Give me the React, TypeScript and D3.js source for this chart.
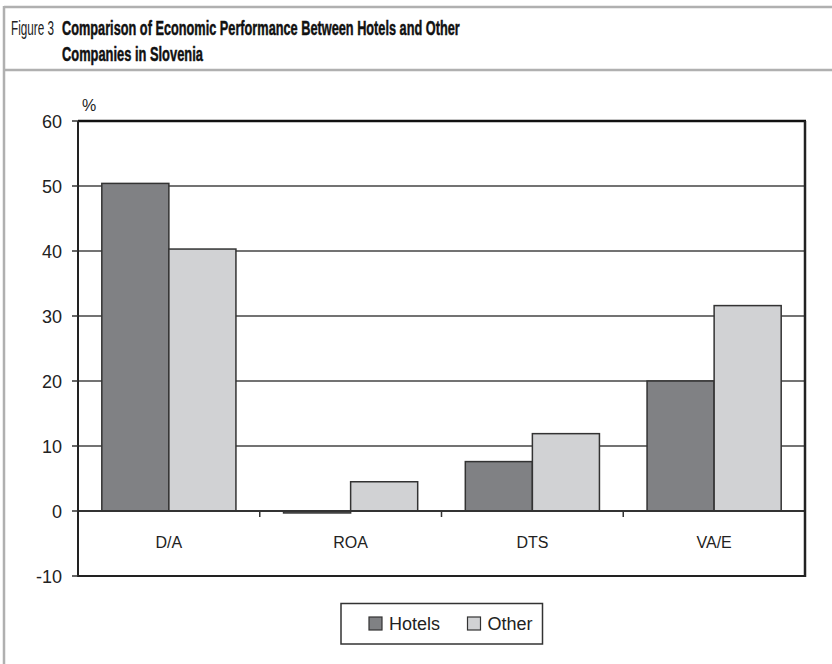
import React, { useLayoutEffect, useRef, useState } from "react";
import * as d3 from "d3";

// Economic indicators (%) for Slovenian hotels vs. other companies
const categories = ["D/A", "ROA", "DTS", "VA/E"];
const seriesNames = ["Hotels", "Other"];
const hotelsValues = [50.4, -0.3, 7.6, 20.0];
const otherValues = [40.3, 4.5, 11.9, 31.6];
const yTicks = [-10, 0, 10, 20, 30, 40, 50, 60];

const seriesColors: Record<string, string> = { Hotels: "#808184", Other: "#d1d2d4" };

const W = 832;
const H = 664;
const plot = { left: 78, right: 805, top: 121, bottom: 576 };
const labelFont = "'Liberation Sans', Arial, sans-serif";
const titleFont = "'Liberation Sans Narrow', 'Liberation Sans', Arial, sans-serif";

// Text condensed horizontally to a fixed width (the title face is a condensed gothic)
function FitText(props: {
  x: number;
  y: number;
  width: number;
  children: string;
  [k: string]: any;
}) {
  const { x, y, width, children, ...rest } = props;
  const ref = useRef<SVGTextElement>(null);
  const [sx, setSx] = useState(1);
  useLayoutEffect(() => {
    if (ref.current) {
      const len = ref.current.getComputedTextLength();
      if (len > 0) setSx(width / len);
    }
  }, [width, children]);
  return (
    <g transform={`translate(${x},${y}) scale(${sx},1)`}>
      <text ref={ref} x={0} y={0} {...rest}>
        {children}
      </text>
    </g>
  );
}

export default function App() {
  const y = d3.scaleLinear().domain([-10, 60]).range([plot.bottom, plot.top]);
  const x = d3.scaleBand<string>().domain(categories).range([plot.left, plot.right]);
  const groupWidth = x.bandwidth() * 0.738;
  const x1 = d3.scaleBand<string>().domain(seriesNames).range([0, groupWidth]);
  const offset = (x.bandwidth() - groupWidth) / 2;

  const rows = categories.map((c, i) => ({ c, Hotels: hotelsValues[i], Other: otherValues[i] }));

  return (
    <svg
      width={W}
      height={H}
      style={{ position: "absolute", left: 0, top: 0, background: "#fff" }}
    >
      {/* outer frame */}
      <line x1={4} x2={4} y1={6} y2={H} stroke="#b0b0b0" strokeWidth={2.5} />
      <line x1={4} x2={W} y1={7} y2={7} stroke="#b0b0b0" strokeWidth={2.5} />
      <line x1={4} x2={W} y1={70} y2={70} stroke="#b0b0b0" strokeWidth={2.5} />

      {/* title */}
      <FitText x={11} y={35} width={43} fontFamily={titleFont} fontSize={21} fill="#222">
        Figure 3
      </FitText>
      <FitText
        x={62}
        y={35}
        width={398}
        fontFamily={titleFont}
        fontSize={21}
        fontWeight="bold"
        fill="#111"
        stroke="#111"
        strokeWidth={0.5}
      >
        Comparison of Economic Performance Between Hotels and Other
      </FitText>
      <FitText
        x={62}
        y={61}
        width={141}
        fontFamily={titleFont}
        fontSize={21}
        fontWeight="bold"
        fill="#111"
        stroke="#111"
        strokeWidth={0.5}
      >
        Companies in Slovenia
      </FitText>

      {/* gridlines */}
      {yTicks
        .filter((t) => t > 0 && t < 60)
        .map((t) => (
          <line key={t} x1={plot.left} x2={plot.right} y1={y(t)} y2={y(t)} stroke="#444" strokeWidth={1.5} />
        ))}

      {/* bars */}
      {rows.map((r) =>
        seriesNames.map((s) => {
          const v = (r as any)[s] as number;
          const x0 = (x(r.c) as number) + offset + (x1(s) as number);
          const top = Math.min(y(v), y(0));
          const h = Math.max(Math.abs(y(v) - y(0)), 1.5);
          return (
            <rect
              key={r.c + s}
              x={x0}
              y={top}
              width={x1.bandwidth()}
              height={h}
              fill={seriesColors[s]}
              stroke="#333"
              strokeWidth={1.5}
            />
          );
        })
      )}

      {/* zero axis line with category ticks */}
      <line x1={plot.left} x2={plot.right} y1={y(0)} y2={y(0)} stroke="#333" strokeWidth={2} />
      {categories.slice(1).map((c) => (
        <line key={c} x1={x(c) as number} x2={x(c) as number} y1={y(0)} y2={y(0) + 6} stroke="#333" strokeWidth={1.5} />
      ))}

      {/* plot border */}
      <line x1={plot.left} x2={plot.right + 1} y1={plot.top} y2={plot.top} stroke="#111" strokeWidth={2.5} />
      <line x1={plot.left} x2={plot.right} y1={plot.bottom} y2={plot.bottom} stroke="#222" strokeWidth={2} />
      <line x1={plot.left} x2={plot.left} y1={plot.top} y2={plot.bottom + 1} stroke="#222" strokeWidth={2} />
      <line x1={plot.right} x2={plot.right} y1={plot.top} y2={plot.bottom + 1} stroke="#222" strokeWidth={2.5} />

      {/* y axis ticks and labels */}
      {yTicks.map((t) => (
        <g key={t}>
          <line x1={plot.left - 6} x2={plot.left} y1={y(t)} y2={y(t)} stroke="#333" strokeWidth={1.5} />
          <text x={62} y={y(t) + 6.5} textAnchor="end" fontFamily={labelFont} fontSize={18} fill="#222">
            {t}
          </text>
        </g>
      ))}
      <text x={82} y={111} fontFamily={labelFont} fontSize={16} fill="#222">
        %
      </text>

      {/* category labels */}
      {categories.map((c) => (
        <text
          key={c}
          x={(x(c) as number) + x.bandwidth() / 2}
          y={548}
          textAnchor="middle"
          fontFamily={labelFont}
          fontSize={16}
          fill="#222"
        >
          {c}
        </text>
      ))}

      {/* legend */}
      <rect x={341} y={603.5} width={201.5} height={40.5} fill="#fff" stroke="#333" strokeWidth={1.5} />
      {seriesNames.map((s, i) => {
        const lx = i === 0 ? 369 : 467.5;
        return (
          <g key={s}>
            <rect x={lx} y={617} width={13} height={13} fill={seriesColors[s]} stroke="#333" strokeWidth={1.2} />
            <text x={lx + 20} y={630} fontFamily={labelFont} fontSize={18} fill="#222">
              {s}
            </text>
          </g>
        );
      })}
    </svg>
  );
}
